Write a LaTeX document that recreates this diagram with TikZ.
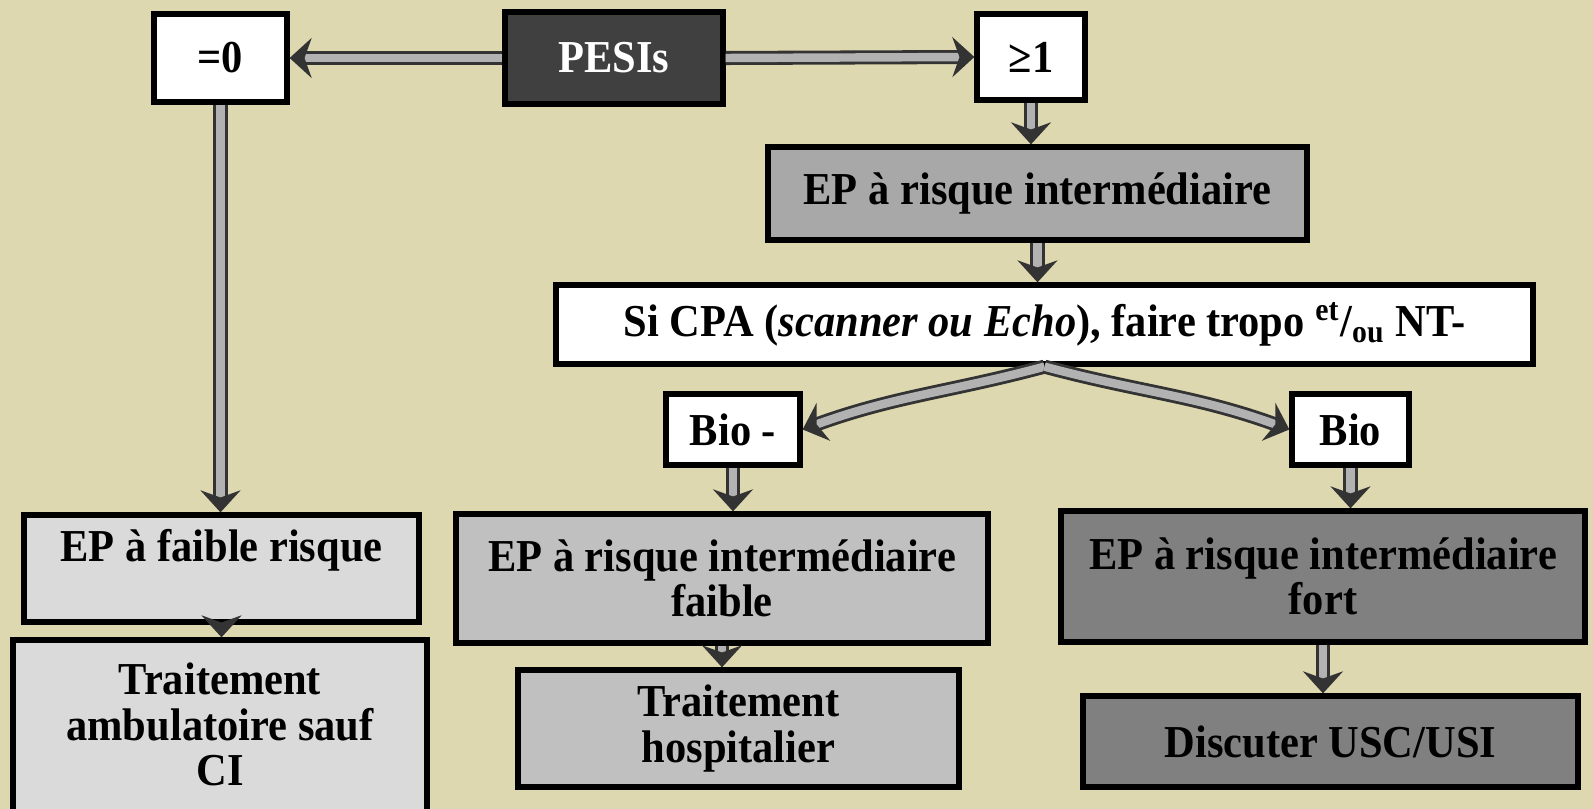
\documentclass[tikz,border=0pt]{standalone}
\usepackage{fontspec}
\setmainfont{Liberation Serif}[FakeStretch=0.93]
\usetikzlibrary{arrows.meta}
\definecolor{bgtan}{RGB}{221,216,176}
\definecolor{pesigrey}{RGB}{64,64,64}
\definecolor{midgrey}{RGB}{168,168,168}
\definecolor{lowgrey}{RGB}{218,218,218}
\definecolor{faiblegrey}{RGB}{192,192,192}
\definecolor{fortgrey}{RGB}{128,128,128}
\tikzset{
	box/.style={draw=black, line width=1.5pt, align=center, inner sep=0pt, font=\bfseries\fontsize{13}{13}\selectfont},
	conn/.style={draw=black!80, line width=0.8pt, double=gray!60, double distance=2.4pt, -{Stealth[length=2.2mm,width=4mm]}}
}

\begin{document}
\begin{tikzpicture}
			%%%%% START %%%%%
			\useasboundingbox (0, 0) rectangle (15.93, -8.09);
			\clip (0, 0) rectangle (15.93, -8.09);
			\fill[bgtan] (0, 0) rectangle (15.93, -8.09);
			
			\node[box, fill=white, minimum width=1.33cm, minimum height=0.88cm] (zero) at (2.205, -0.58) {=0};
			\node[box, fill=pesigrey, text=white, minimum width=2.18cm, minimum height=0.92cm] (pesi) at (6.14, -0.58) {PESIs};
			\node[box, fill=white, minimum width=1.08cm, minimum height=0.86cm] (one) at (10.31, -0.57) {≥1};
			
			\node[box, fill=midgrey, minimum width=5.39cm, minimum height=0.93cm] (mid) at (10.375, -1.935) {EP à risque intermédiaire};
			\node[box, fill=white, minimum width=9.77cm, minimum height=0.79cm] (cpa) at (10.445, -3.245) {Si CPA (\textit{scanner ou Echo}), faire tropo \textsuperscript{et}/\textsubscript{ou} NT-};
			
			\node[box, fill=white, minimum width=1.34cm, minimum height=0.71cm] (bion) at (7.33, -4.295) {Bio -};
			\node[box, fill=white, minimum width=1.17cm, minimum height=0.71cm] (biop) at (13.505, -4.295) {Bio};
			
			\node[box, fill=lowgrey, minimum width=3.95cm, minimum height=1.07cm] (low) at (2.215, -5.685) {EP à faible risque\\\mbox{}};
			\node[box, fill=faiblegrey, minimum width=5.32cm, minimum height=1.29cm] (intf) at (7.22, -5.785) {EP à risque intermédiaire\\faible};
			\node[box, fill=fortgrey, minimum width=5.24cm, minimum height=1.31cm] (intF) at (13.23, -5.765) {EP à risque intermédiaire\\fort};
			
			\node[box, fill=lowgrey, minimum width=4.14cm, minimum height=2.14cm] (amb) at (2.2, -7.47) {Traitement\\ambulatoire sauf\\CI\\\mbox{}};
			\node[box, fill=faiblegrey, minimum width=4.41cm, minimum height=1.17cm] (hosp) at (7.385, -7.285) {Traitement\\hospitalier};
			\node[box, fill=fortgrey, minimum width=4.95cm, minimum height=0.91cm] (usc) at (13.305, -7.415) {Discuter USC/USI};
			
			\draw[conn] (pesi.west) -- (zero.east);
			\draw[conn] (pesi.east) -- (one.west);
			\draw[conn] (one.south) -- (one.south |- mid.north);
			\draw[conn] (mid.south) -- (mid.south |- cpa.north);
			\draw[conn] (cpa.south) to[out=195, in=20] (bion.east);
			\draw[conn] (cpa.south) to[out=-15, in=160] (biop.west);
			\draw[conn] (zero.south) -- (zero.south |- low.north);
			\draw[conn] (bion.south) -- (bion.south |- intf.north);
			\draw[conn] (biop.south) -- (biop.south |- intF.north);
			\draw[conn] (low.south) -- (low.south |- amb.north);
			\draw[conn] (intf.south) -- (intf.south |- hosp.north);
			\draw[conn] (intF.south) -- (intF.south |- usc.north);
			%%%%% END %%%%%
\end{tikzpicture}
\end{document}
